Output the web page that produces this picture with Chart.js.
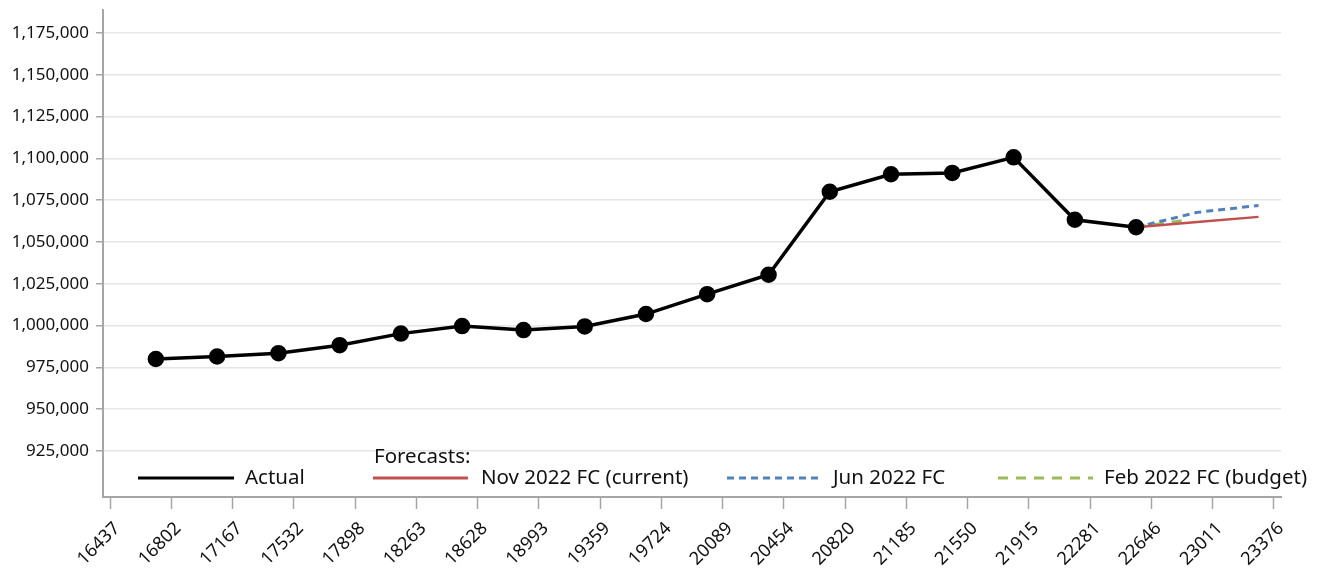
<!DOCTYPE html>
<html>
<head>
<meta charset="utf-8">
<script src="https://cdn.jsdelivr.net/npm/chart.js@4.4.0/dist/chart.umd.min.js"></script>
<style>
html,body{margin:0;padding:0;background:#fff;}
#wrap{width:1320px;height:569px;position:relative;}
</style>
</head>
<body>
<div id="wrap"><canvas id="c" width="1320" height="569"></canvas></div>
<script>
// ---- data ----
const actualX = [16710, 17075, 17441, 17806, 18171, 18536, 18902, 19267, 19632, 19997, 20363, 20728, 21093, 21458, 21824, 22189, 22554];
const actualY = [980000, 981500, 983500, 988300, 995200, 999700, 997300, 999500, 1006900, 1018800, 1030400, 1080000, 1090500, 1091300, 1100600, 1063300, 1058800];
const fcX = [22554, 22919, 23284];
const novFC = [1058800, 1062000, 1065000];
const junFC = [1058800, 1067700, 1071800];
const febX = [22554, 22865];
const febFC = [1058800, 1063200];
const xTicks = [16437, 16802, 17167, 17532, 17898, 18263, 18628, 18993, 19359, 19724, 20089, 20454, 20820, 21185, 21550, 21915, 22281, 22646, 23011, 23376];
const yTicks = [925000, 950000, 975000, 1000000, 1025000, 1050000, 1075000, 1100000, 1125000, 1150000, 1175000];
const seriesNames = ['Actual', 'Nov 2022 FC (current)', 'Jun 2022 FC', 'Feb 2022 FC (budget)'];
const forecastsTitle = 'Forecasts:';

const pts = (xs, ys) => xs.map((x, i) => ({x: x, y: ys[i]}));
const FONT = '"Noto Sans", sans-serif';

const legendPlugin = {
  id: 'insideLegend',
  afterDraw(chart) {
    const ctx = chart.ctx;
    const ca = chart.chartArea;
    const rowY = ca.bottom - 19;
    const items = [
      {ds: 0, x0: 138, x1: 234, tx: 245},
      {ds: 1, x0: 373, x1: 468, tx: 481},
      {ds: 2, x0: 727, x1: 822, tx: 833},
      {ds: 3, x0: 998, x1: 1093, tx: 1104}
    ];
    ctx.save();
    ctx.font = '20.5px ' + FONT;
    ctx.fillStyle = '#111';
    ctx.textBaseline = 'middle';
    items.forEach(it => {
      const d = chart.data.datasets[it.ds];
      ctx.save();
      ctx.strokeStyle = d.borderColor;
      ctx.lineWidth = d.legendWidth;
      ctx.setLineDash(d.borderDash || []);
      ctx.beginPath();
      ctx.moveTo(it.x0, rowY);
      ctx.lineTo(it.x1, rowY);
      ctx.stroke();
      ctx.restore();
      ctx.fillText(d.label, it.tx, rowY);
    });
    ctx.fillText(forecastsTitle, 374, rowY - 21);
    ctx.restore();
  }
};

new Chart(document.getElementById('c'), {
  type: 'line',
  data: {
    datasets: [
      {label: seriesNames[0], data: pts(actualX, actualY), borderColor: '#000', backgroundColor: '#000',
       borderWidth: 3.5, pointRadius: 6.5, pointHoverRadius: 6.5, tension: 0, legendWidth: 3, order: 1},
      {label: seriesNames[1], data: pts(fcX, novFC), borderColor: '#c0504d', borderWidth: 2.5,
       pointRadius: 0, tension: 0, legendWidth: 3, order: 2},
      {label: seriesNames[2], data: pts(fcX, junFC), borderColor: '#4f81bd', borderWidth: 3,
       borderDash: [7, 5], pointRadius: 0, tension: 0, legendWidth: 3, order: 3},
      {label: seriesNames[3], data: pts(febX, febFC), borderColor: '#9bbb59', borderWidth: 3,
       borderDash: [10, 8], pointRadius: 0, tension: 0, legendWidth: 3, order: 4}
    ]
  },
  options: {
    responsive: false,
    animation: false,
    layout: {padding: {top: 5, right: 39, left: 0, bottom: 0}},
    plugins: {legend: {display: false}, tooltip: {enabled: false}},
    scales: {
      x: {
        type: 'linear',
        min: 16395, max: 23418,
        afterBuildTicks: s => { s.ticks = xTicks.map(v => ({value: v})); },
        afterFit: s => { s.height = 72; s.paddingLeft = 0; s.paddingRight = 0; },
        border: {color: '#a6a6a6', width: 2},
        grid: {drawOnChartArea: false, drawTicks: true, tickLength: 12, tickColor: '#a6a6a6', tickWidth: 1.5},
        ticks: {
          autoSkip: false, maxRotation: 45, minRotation: 45, padding: 9, labelOffset: 7,
          color: '#111', font: {family: FONT, size: 18},
          callback: v => String(v)
        }
      },
      y: {
        type: 'linear',
        min: 897500, max: 1188700,
        afterBuildTicks: s => { s.ticks = yTicks.map(v => ({value: v})); },
        afterFit: s => { s.width = 103; s.paddingTop = 0; s.paddingBottom = 0; },
        border: {color: '#a6a6a6', width: 2},
        grid: {color: '#e6e6e6', lineWidth: 1.5, tickLength: 7, tickColor: '#a6a6a6', tickWidth: 1.5},
        ticks: {
          padding: 7, color: '#111', font: {family: FONT, size: 17},
          callback: v => v.toLocaleString('en-US')
        }
      }
    }
  },
  plugins: [legendPlugin]
});
</script>
</body>
</html>
